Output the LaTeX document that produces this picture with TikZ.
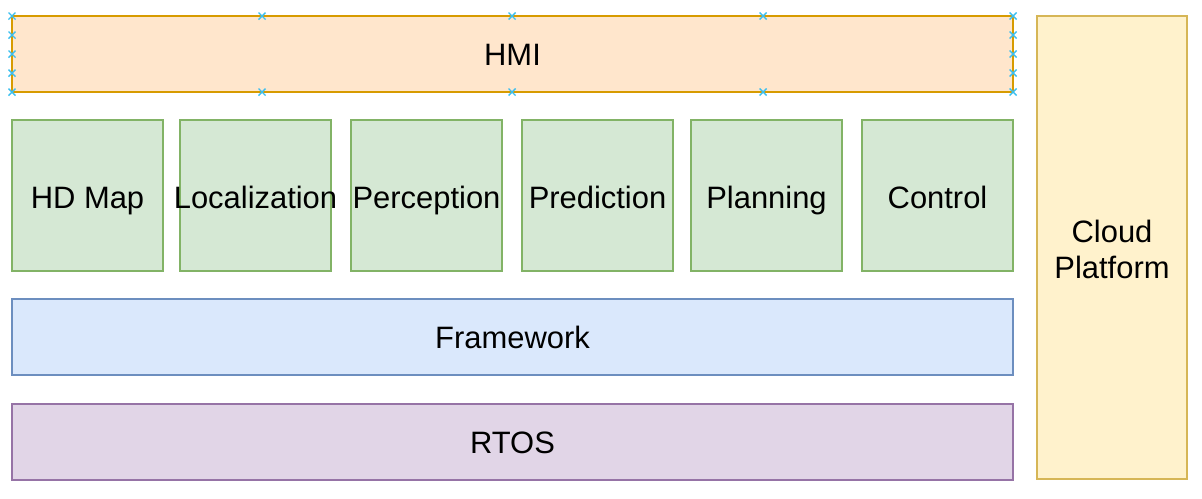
\documentclass[tikz,border=0pt]{standalone}
\usepackage{fontspec}
\setmainfont{Liberation Sans}
\usetikzlibrary{positioning}
\definecolor{hmiFill}{HTML}{FFE6CC}
\definecolor{hmiLine}{HTML}{D79B00}
\definecolor{modFill}{HTML}{D5E8D4}
\definecolor{modLine}{HTML}{82B366}
\definecolor{fwFill}{HTML}{DAE8FC}
\definecolor{fwLine}{HTML}{6C8EBF}
\definecolor{osFill}{HTML}{E1D5E7}
\definecolor{osLine}{HTML}{9673A6}
\definecolor{cloudFill}{HTML}{FFF2CC}
\definecolor{cloudLine}{HTML}{D6B656}
\definecolor{handle}{HTML}{3BBFEF}

\begin{document}
\begin{tikzpicture}[x=0.02cm, y=-0.02cm]
        \tikzstyle{layer} = [rectangle, line width=1.1pt, minimum width=20.02cm,
          minimum height=1.52cm, inner sep=0pt, text height=13.5pt, text depth=0pt,
          font=\fontsize{17.6}{21}\selectfont]
        \tikzstyle{module} = [rectangle, draw=modLine, fill=modFill, line width=1.1pt,
          minimum width=3.02cm, minimum height=3.02cm, inner sep=0pt,
          text height=14.6pt, text depth=0pt, font=\fontsize{17.6}{21}\selectfont]

        \useasboundingbox (0,0) rectangle (1202,498);

        \node[layer, draw=hmiLine, fill=hmiFill] (hmi) at (512.5, 54) {HMI};

        \foreach \name/\xc [count=\i] in {HD Map/87.5, Localization/255.5,
            Perception/426.5, Prediction/597.5, Planning/766.5, Control/937.5}
          \node[module] (mod\i) at (\xc, 195.5) {\makebox[0pt]{\name}};

        \node[layer, draw=fwLine, fill=fwFill] (framework) at (512.5, 337) {Framework};
        \node[layer, draw=osLine, fill=osFill] (rtos) at (512.5, 442) {RTOS};

        \node[rectangle, draw=cloudLine, fill=cloudFill, line width=1.1pt,
          minimum width=3.0cm, minimum height=9.26cm, inner sep=0pt, align=center,
          font=\fontsize{17.6}{21}\selectfont] (cloud) at (1112, 247.5)
          {\rule{0pt}{15pt}Cloud\\Platform};

        % selection handles on HMI
        \foreach \xh in {12, 262, 512, 763, 1013}
          \foreach \yh in {16, 92}
            \draw[handle, line width=0.8pt] (\xh-3.5,\yh-3.5) -- (\xh+3.5,\yh+3.5)
              (\xh-3.5,\yh+3.5) -- (\xh+3.5,\yh-3.5);
        \foreach \xh in {12, 1013}
          \foreach \yh in {35, 54, 73}
            \draw[handle, line width=0.8pt] (\xh-3.5,\yh-3.5) -- (\xh+3.5,\yh+3.5)
              (\xh-3.5,\yh+3.5) -- (\xh+3.5,\yh-3.5);
      \end{tikzpicture}
\end{document}
